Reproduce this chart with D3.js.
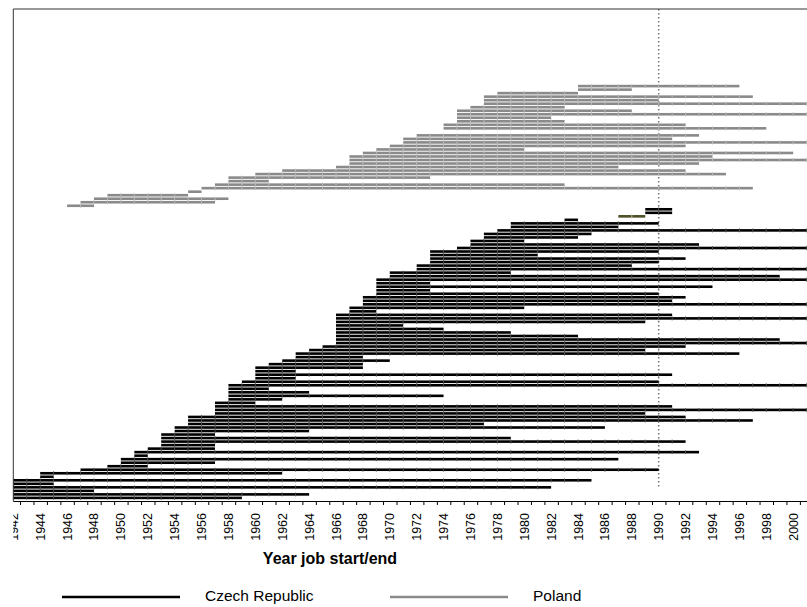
<!DOCTYPE html>
<html>
<head>
<meta charset="utf-8">
<script src="https://cdn.jsdelivr.net/npm/d3@7"></script>
<style>
  html, body { margin: 0; padding: 0; background: #fff; }
  svg { display: block; font-family: "Liberation Sans", Arial, Helvetica, sans-serif; }
</style>
</head>
<body>
<svg id="chart" width="807" height="607"></svg>
<script>
// ---------- DATA ----------
// Poland respondents (top to bottom), job start / end years (null = no spell shown)
const polandStart = [1984,1984,1978,1977,1977,1977,1976,1975,1975,1975,1975,1974,1974,null,1972,1971,1971,1970,1969,1968,1967,1967,1967,1966,1962,1960,1958,1958,1957,1956,1955,1949,1948,1947,1946];
const polandEnd   = [1996,1988,1984,1997,1990,2002,1983,1988,2002,1982,1983,1992,1998,null,1993,1991,2002,1992,1980,2000,1994,2002,1993,1987,1992,1995,1973,1961,1983,1997,1956,1955,1958,1957,1948];

// Czech Republic respondents (top to bottom)
const czechStart = [1989,1989,null,1983,1979,1979,1978,1977,1977,1976,1976,1975,1973,1973,1973,1973,1972,1972,1970,1970,
                    1969,1969,1969,1969,1969,1968,1968,1968,1967,1967,1966,1966,1966,1966,1966,1966,1966,1966,1966,1965,
                    1964,1963,1963,1962,1961,1960,1960,1960,1960,1959,1958,1958,1958,1958,1958,1957,1957,1957,1957,1955,
                    1955,1955,1954,1954,1953,1953,1953,1953,1952,1951,1951,1950,1950,1949,1947,1944,1944,1940,1940,1940,
                    1940,1940,1940];
const czechEnd   = [1991,1991,null,1984,1990,1987,2002,1985,1984,1980,1993,2002,1990,1981,1992,1990,1988,2002,1979,1999,
                    2002,1973,1994,1973,1990,1992,1991,2002,1980,1969,1991,2002,1989,1971,1974,1979,1984,1999,2002,1992,
                    1989,1996,1968,1970,1968,1968,1963,1991,1963,1990,2002,1961,1964,1974,1962,1960,1991,2002,1989,1992,
                    1997,1977,1986,1964,1957,1979,1992,1957,1957,1993,1952,1987,1957,1952,1990,1962,1945,1985,1945,1982,
                    1948,1964,1959];

// Single spell drawn in a different (olive) tone, Czech row index
const otherRow   = [2];
const otherStart = [1987];
const otherEnd   = [1989];

const yearLabels = d3.range(1942, 2001, 2);
const tickYears  = d3.range(1942.5, 2001, 1);
const refYear    = 1990;
const legendItems = ["Czech Republic", "Poland"];

// ---------- SETUP ----------
const svg = d3.select("#chart");
const W = 807, H = 607;
const plotLeft = 13.3, plotTop = 9, axisY = 501;

const x = d3.scaleLinear().domain([1942, 1990]).range([plotLeft, 658.7]);
const nRows = polandStart.length + czechStart.length;
const y = d3.scaleLinear().domain([0, nRows - 1]).range([86.1, 497.9]);

const colors = { cz: "#000000", pl: "#8a8a8a", other: "#4f4f26" };

const defs = svg.append("defs");
defs.append("clipPath").attr("id", "plotClip")
  .append("rect").attr("x", plotLeft).attr("y", plotTop).attr("width", W - plotLeft).attr("height", axisY - plotTop);
defs.append("clipPath").attr("id", "labelClip")
  .append("rect").attr("x", plotLeft).attr("y", axisY).attr("width", W - plotLeft).attr("height", 60);

// build spells
const spells = [];
polandStart.forEach((s, i) => { if (s != null) spells.push({ row: i, start: s, end: polandEnd[i], c: colors.pl }); });
czechStart.forEach((s, i) => { if (s != null) spells.push({ row: polandStart.length + i, start: s, end: czechEnd[i], c: colors.cz }); });
otherRow.forEach((r, i) => spells.push({ row: polandStart.length + r, start: otherStart[i], end: otherEnd[i], c: colors.other }));

const plot = svg.append("g").attr("clip-path", "url(#plotClip)");

// reference line
plot.append("line")
  .attr("x1", x(refYear)).attr("x2", x(refYear))
  .attr("y1", plotTop).attr("y2", 487)
  .attr("stroke", "#7a7a7a").attr("stroke-width", 1.6)
  .attr("stroke-dasharray", "1.5,2.5");

const bh = 2.6;
plot.selectAll("rect.spell").data(spells).join("rect")
  .attr("class", "spell")
  .attr("x", d => x(d.start))
  .attr("width", d => x(d.end) - x(d.start))
  .attr("y", d => y(d.row) - bh / 2)
  .attr("height", bh)
  .attr("fill", d => d.c);

// yearly marks along each spell
const marks = [];
spells.forEach(d => {
  for (let yr = Math.ceil(d.start) + 1; yr <= Math.min(d.end, 2001); yr++) {
    if (yr < d.end) marks.push({ yr, row: d.row, c: d.c });
  }
});
plot.selectAll("line.mark").data(marks).join("line")
  .attr("class", "mark")
  .attr("x1", d => x(d.yr)).attr("x2", d => x(d.yr))
  .attr("y1", d => y(d.row) - 2).attr("y2", d => y(d.row) + 2)
  .attr("stroke", d => d.c === colors.cz ? "#555" : "#bdbdbd")
  .attr("stroke-width", 0.9);

// frame (top + left)
svg.append("path")
  .attr("d", `M${W},${plotTop}H${plotLeft}V${axisY}`)
  .attr("fill", "none").attr("stroke", "#333").attr("stroke-width", 1);

// x axis
const axis = d3.axisBottom(x).tickValues(tickYears).tickFormat("").tickSize(4).tickSizeOuter(0);
const gAxis = svg.append("g").attr("transform", `translate(0,${axisY})`).call(axis);
gAxis.select(".domain").attr("stroke", "#000").attr("d", `M${plotLeft},0.5H${W}`);
gAxis.selectAll(".tick line").attr("stroke", "#000");

svg.append("g").attr("clip-path", "url(#labelClip)")
  .selectAll("text").data(yearLabels).join("text")
  .attr("transform", d => `translate(${x(d)},513) rotate(-90)`)
  .attr("text-anchor", "end")
  .attr("dy", "0.36em")
  .attr("font-size", 12.5)
  .attr("fill", "#000")
  .text(d => d);

// axis title
svg.append("text")
  .attr("x", 330).attr("y", 564)
  .attr("text-anchor", "middle")
  .attr("font-size", 16).attr("font-weight", "bold")
  .text("Year job start/end");

// legend
const legend = svg.append("g");
const legX = [62, 390];
const legC = [colors.cz, colors.pl];
legendItems.forEach((t, i) => {
  legend.append("line")
    .attr("x1", legX[i]).attr("x2", legX[i] + 118)
    .attr("y1", 597).attr("y2", 597)
    .attr("stroke", legC[i]).attr("stroke-width", 2.6);
  legend.append("text")
    .attr("x", legX[i] + 143).attr("y", 601)
    .attr("font-size", 15.5)
    .text(t);
});
</script>
</body>
</html>
